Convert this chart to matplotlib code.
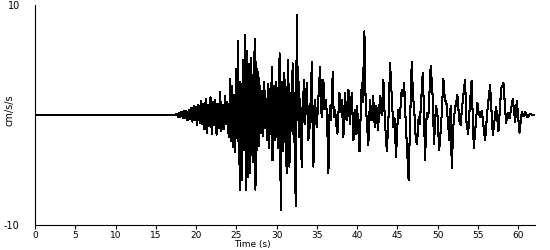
import matplotlib
matplotlib.use("Agg")
import matplotlib.pyplot as plt

# Time (s) of the trace turning points
times = [0.0, 17.5,
 17.6, 17.75, 17.9, 18.05, 18.2, 18.35, 18.5, 18.65, 18.8, 18.95, 19.1, 19.25, 19.4, 19.55,
 19.7, 19.85, 20.0, 20.15, 20.3, 20.45,
 20.6, 20.75, 20.9, 21.05, 21.2, 21.35, 21.5, 21.65, 21.8, 21.95, 22.1, 22.25, 22.4, 22.55,
 22.7, 22.85, 23.0, 23.15, 23.3, 23.45, 23.6, 23.75, 23.9, 24.05,
 24.25, 24.35, 24.5, 24.62, 24.75, 24.88, 25.0, 25.1, 25.18, 25.3, 25.4, 25.48, 25.6, 25.72,
 25.85, 25.97, 26.08, 26.18, 26.3, 26.42, 26.55, 26.65, 26.78, 26.9, 27.0, 27.12, 27.28, 27.38,
 27.5, 27.62, 27.75, 27.85, 27.98, 28.1, 28.22, 28.35, 28.48, 28.6, 28.72, 28.85, 28.98, 29.1,
 29.2, 29.3, 29.4, 29.5, 29.62, 29.75, 29.88, 30.0, 30.1, 30.2, 30.38, 30.52, 30.62, 30.75,
 30.88, 31.0, 31.1, 31.25, 31.45, 31.6, 31.72, 31.85, 32.0, 32.12, 32.2, 32.3, 32.36, 32.42,
 32.5, 32.6, 32.7, 32.82, 32.95, 33.12, 33.25, 33.42, 33.55, 33.75, 33.96, 34.1, 34.2, 34.37,
 34.58, 34.7, 34.8, 34.9, 35.0, 35.2, 35.41, 35.6, 35.82, 35.95, 36.15, 36.3, 36.44, 36.6,
 36.75, 36.98, 37.1, 37.27, 37.4, 37.56, 37.81, 37.95, 38.1, 38.3, 38.5, 38.7, 38.93, 39.1,
 39.34, 39.55, 39.7, 39.85, 40.0, 40.1, 40.3, 40.58, 40.7, 40.91, 41.05, 41.2, 41.4, 41.6,
 41.8, 42.0, 42.2, 42.4, 42.6, 42.85, 43.05, 43.27, 43.45, 43.7, 43.9, 44.1, 44.3, 44.5,
 44.65, 44.84, 45.1, 45.3, 45.55, 45.7, 45.85, 46.05, 46.4, 46.6, 46.79, 46.95, 47.1, 47.3,
 47.45, 47.65, 47.8, 48.15, 48.3, 48.44, 48.65, 48.85, 49.15, 49.38, 49.56, 49.8, 49.97, 50.2,
 50.45, 50.72, 50.9, 51.1, 51.47, 51.62, 51.76, 51.95, 52.15, 52.46, 52.7, 52.85, 53.1, 53.41,
 53.6, 53.8, 54.0, 54.22, 54.5, 54.95, 55.1, 55.28, 55.49, 55.9, 56.2, 56.52, 56.86, 57.27,
 57.56, 57.9, 58.18, 58.51, 58.7, 58.93, 59.34, 59.63, 59.84, 60.17, 60.46, 60.67, 60.87, 61.16,
 61.5, 61.8, 62.0]

# Acceleration (cm/s/s) at those turning points
accel = [0.0, 0.0,
 0.1, -0.15, 0.2, -0.2, 0.3, -0.25, 0.35, -0.3, 0.4, -0.5, 0.5, -0.4, 0.6, -0.6,
 0.8, -0.5, 0.7, -0.9, 0.9, -0.7,
 1.3, -0.8, 1.0, -1.3, 1.5, -1.6, 0.9, -1.0, 1.6, -1.7, 1.2, -0.9, 1.4, -1.8,
 1.0, -1.2, 2.1, -1.5, 0.9, -1.3, 1.7, -0.8, 1.2, -2.0,
 3.3, -2.4, 2.6, -2.9, 1.8, -3.4, 4.2, -2.0, 6.7, -4.5, 3.0, -6.8, 2.8, -5.9,
 5.0, -3.2, 7.3, -6.8, 5.8, -5.6, 4.6, -5.3, 5.2, -3.6, 3.6, -4.3, 6.9, -6.8,
 4.8, -3.2, 3.9, -2.8, 2.6, -1.6, 2.2, -1.9, 3.0, -1.2, 1.5, -2.3, 2.8, -3.0,
 2.4, -1.5, 4.4, -4.1, 2.6, -2.3, 3.0, -2.0, 2.5, -3.0, 5.6, -8.6, 3.0, -3.3,
 3.8, -2.5, 3.2, -5.3, 5.0, -4.7, 2.0, -1.5, 4.7, -2.5, 2.0, -7.1, -1.0, -8.3,
 9.1, -0.5, 4.4, -2.0, 1.5, -4.7, 0.5, 3.2, -0.8, 2.9, -2.3, 1.0, -1.2, 4.8,
 -4.7, 0.8, 1.4, -0.5, -1.1, 1.5, 4.4, -0.2, 3.2, 0.5, 1.4, -1.0, -5.3, 0.8,
 -0.5, 3.9, -0.2, 0.5, -0.8, -1.7, 2.0, 0.3, 1.4, -2.0, 2.0, -0.5, 2.3, -0.8,
 2.0, -2.3, 0.5, -1.7, 0.8, -0.5, -3.3, 2.9, 1.2, 7.6, 1.8, -0.5, -2.7, 1.4,
 -0.5, 1.7, -1.1, 0.8, -1.4, 1.7, 0.0, 3.2, -0.5, -3.3, -0.3, 4.7, 1.7, -1.1,
 -0.3, -3.8, 0.5, -0.3, 2.3, 1.7, 2.9, -0.8, -5.9, -0.2, 4.8, 1.7, 0.5, -2.3,
 -2.6, -0.2, -0.8, 3.8, 0.8, -4.1, 0.2, -0.2, 4.5, 1.8, -2.6, 0.8, 0.2, -3.2,
 -0.8, 3.3, 1.4, 1.1, -2.3, 0.8, -4.8, -1.1, 0.5, 1.8, -0.5, -0.9, 1.1, 3.2,
 -0.8, -1.7, 0.8, 3.1, -3.0, 1.1, 0.2, -0.15, 0.4, -2.3, 0.5, 2.7, -1.8, 0.75,
 -1.5, 2.4, 2.9, -0.7, 0.2, -0.3, 1.45, -0.6, 1.3, -1.6, 0.3, -0.1, 0.3, -0.2,
 0.1, 0.0, 0.0]

x_ticks = [0, 5, 10, 15, 20, 25, 30, 35, 40, 45, 50, 55, 60]
y_ticks = [-10, 10]

fig = plt.figure(figsize=(5.5, 2.5), dpi=100)
ax = fig.add_axes([35/550, 1 - 225/250, 500/550, 220/250])

ax.plot(times, accel, color="black", lw=0.75, antialiased=False)

ax.set_xlim(0, 62.1)
ax.set_ylim(-10, 10)
ax.set_xticks(x_ticks)
ax.set_xticklabels([str(t) for t in x_ticks])
ax.set_yticks(y_ticks)
ax.set_yticklabels([str(v) for v in y_ticks])

for s in ["top", "right"]:
    ax.spines[s].set_visible(False)
for s in ["left", "bottom"]:
    ax.spines[s].set_linewidth(0.8)
    ax.spines[s].set_color("black")

ax.tick_params(axis="x", direction="out", length=3, width=0.8, pad=1, labelsize=6.5)
ax.tick_params(axis="y", length=0, pad=11, labelsize=7)

ax.set_xlabel("Time (s)", fontsize=6.5)
ax.xaxis.set_label_coords((252 - 35) / 500, -0.068)
ax.set_ylabel("cm/s/s", fontsize=7)
ax.yaxis.set_label_coords(-0.04, 0.52)

fig.savefig("out.png", dpi=100)
